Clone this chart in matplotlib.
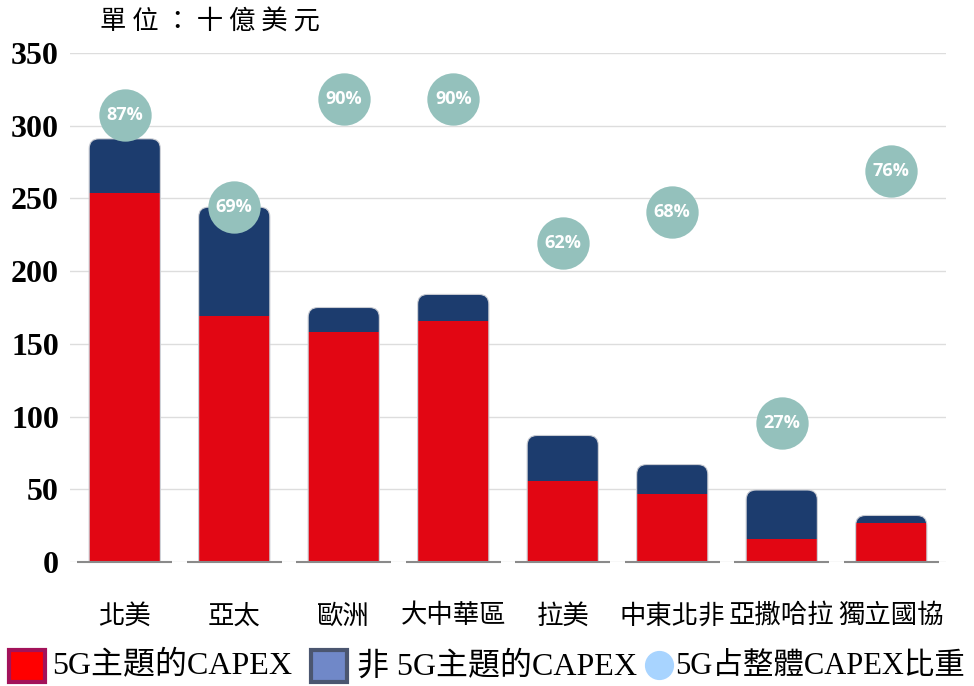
import matplotlib
matplotlib.use("Agg")
import matplotlib.pyplot as plt
from matplotlib.patches import FancyBboxPatch, Rectangle
from matplotlib.lines import Line2D
import numpy as np

categories = ['北美', '亞太', '歐洲', '大中華區', '拉美', '中東北非', '亞撒哈拉', '獨立國協']
capex_5g = [254, 169, 158, 166, 56, 47, 16, 27]
capex_non5g = [37, 75, 17, 18, 31, 20, 33.5, 5]
share_5g = [0.87, 0.69, 0.90, 0.90, 0.62, 0.68, 0.27, 0.76]
share_labels = ['87%', '69%', '90%', '90%', '62%', '68%', '27%', '76%']
yticks = [0, 50, 100, 150, 200, 250, 300, 350]

RED = '#E20613'
BLUE = '#1C3C6E'
TEAL = '#94C1BC'
CJK = 'Noto Sans CJK TC'
SERIF = ['Liberation Serif', CJK]

W, H = 974, 686
fig = plt.figure(figsize=(W / 100, H / 100), dpi=100)
ax = fig.add_axes([70 / W, 1 - 562 / H, 876 / W, 509 / H])

x = np.arange(len(categories))
bw = 0.65
b1 = ax.bar(x, capex_5g, bw, color=RED, zorder=2, linewidth=0)
b2 = ax.bar(x, capex_non5g, bw, bottom=capex_5g, color=BLUE, zorder=2, linewidth=0)

for i in range(len(categories)):
    total = capex_5g[i] + capex_non5g[i]
    clip = FancyBboxPatch((x[i] - bw / 2, -50), bw, total + 50,
                          boxstyle='round,pad=0,rounding_size=0.09',
                          mutation_aspect=75, transform=ax.transData)
    b1[i].set_clip_path(clip)
    b2[i].set_clip_path(clip)
    outline = FancyBboxPatch((x[i] - bw / 2, -50), bw, total + 50,
                             boxstyle='round,pad=0,rounding_size=0.09',
                             mutation_aspect=75, facecolor='none',
                             edgecolor='#c9ccd3', linewidth=0.8, zorder=2.5)
    ax.add_patch(outline)

ax.hlines(np.zeros(len(x)), x - 0.435, x + 0.435, color='#8a8a8a', lw=1.5, zorder=3, clip_on=False)

ax.set_xlim(-0.5, len(categories) - 0.5)
ax.set_ylim(0, 350)
ax.set_yticks(yticks)
ax.set_yticklabels([str(v) for v in yticks], fontsize=23, fontweight='bold',
                   family='Liberation Serif')
ax.yaxis.grid(True, color='#dddddd', lw=1, zorder=0)
ax.set_axisbelow(True)
ax.set_xticks(x)
ax.set_xticklabels(categories, fontsize=19, family=CJK)
ax.tick_params(axis='both', length=0)
ax.tick_params(axis='y', pad=8)
ax.tick_params(axis='x', pad=29)
for s in ax.spines.values():
    s.set_visible(False)

ax2 = ax.twinx()
ax2.set_ylim(0, 0.99)
ax2.set_axis_off()
ax2.scatter(x, share_5g, s=1420, color=TEAL, zorder=4, linewidths=0)
for xi, v, lab in zip(x, share_5g, share_labels):
    ax2.text(xi, v, lab, ha='center', va='center', color='white',
             fontsize=13, fontweight='bold', family='Open Sans', zorder=5)

fig.text(100 / W, 1 - 22 / H, ' '.join('單位：十億美元'), fontsize=19, family=CJK,
         va='center', ha='left')

# legend
fig.add_artist(Rectangle((9 / W, 1 - 682 / H), 36 / W, 32 / H, transform=fig.transFigure,
                         facecolor='#FF0000', edgecolor='#A3125A', lw=3))
fig.text(52 / W, 1 - 666 / H, '5G主題的CAPEX', fontsize=23, family=SERIF, va='center')
fig.add_artist(Rectangle((311 / W, 1 - 682 / H), 36 / W, 32 / H, transform=fig.transFigure,
                         facecolor='#7088C8', edgecolor='#4B5670', lw=3))
fig.text(357 / W, 1 - 666 / H, '非 5G主題的CAPEX', fontsize=23, family=SERIF, va='center')
fig.add_artist(Line2D([659 / W], [1 - 665 / H], marker='o', markersize=20, color='#A8D4FF',
                      transform=fig.transFigure, linestyle='none'))
fig.text(675 / W, 1 - 666 / H, '5G占整體CAPEX比重', fontsize=22, family=SERIF, va='center')

fig.savefig('out.png', dpi=100)
